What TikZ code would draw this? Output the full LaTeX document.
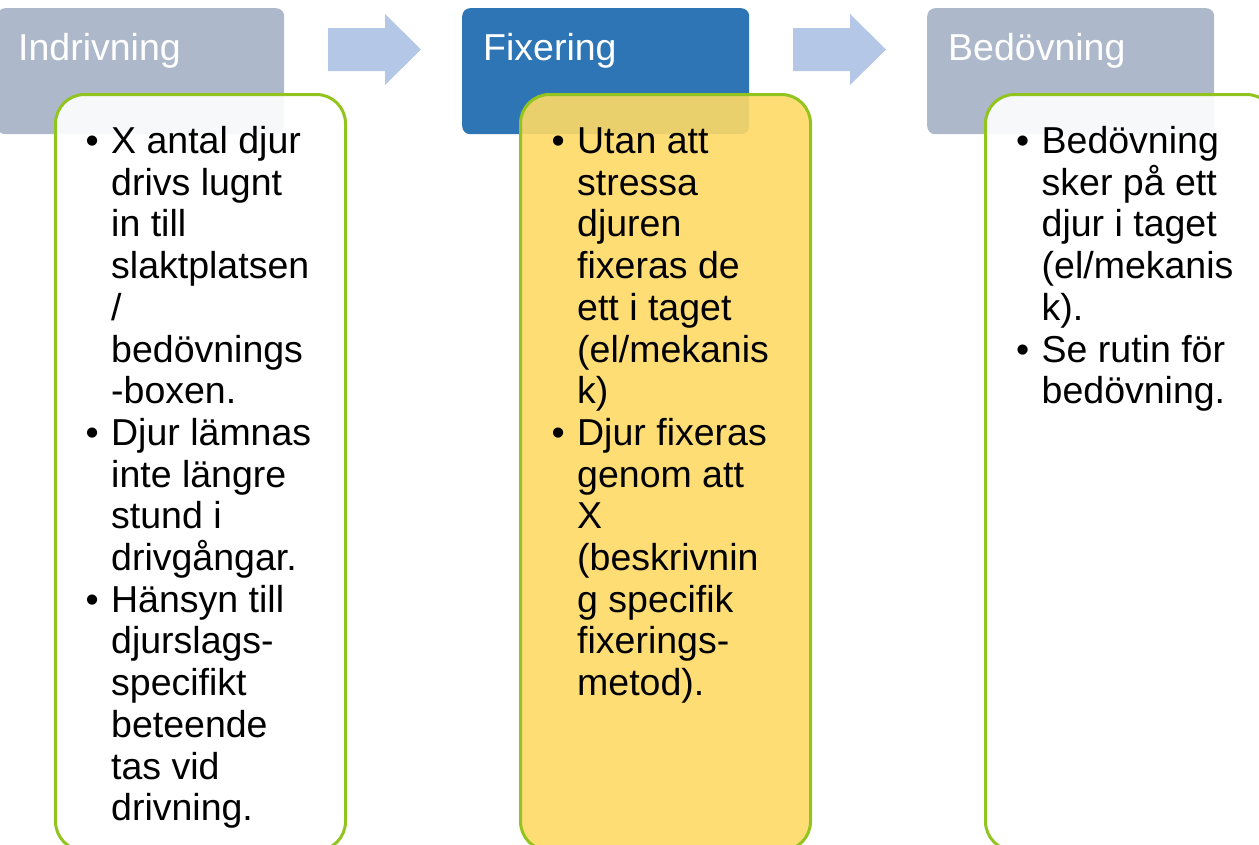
\documentclass[tikz,border=0pt]{standalone}
\usepackage{fontspec}
\setmainfont{Liberation Sans}
\usetikzlibrary{positioning}

\definecolor{headgray}{RGB}{173,185,202}
\definecolor{headblue}{RGB}{46,117,182}
\definecolor{arrowblue}{RGB}{180,199,231}
\definecolor{cardgreen}{RGB}{146,196,32}
\definecolor{cardyellow}{RGB}{255,217,102}

\newcommand{\bl}{\llap{\makebox[25.5pt][l]{•}}}

\tikzset{
  head/.style={rounded corners=8pt, minimum width=287pt, minimum height=126pt, anchor=north west, inner sep=0pt},
  card/.style={draw=cardgreen, line width=3pt, rounded corners=29pt, fill opacity=0.9,
    minimum width=290pt, minimum height=756pt, anchor=north west, inner sep=0pt},
  headtext/.style={anchor=base west, inner sep=0pt, text=white, font=\fontsize{37.5}{41.7}\selectfont},
  listtext/.style={anchor=base west, inner sep=0pt, align=left, font=\fontsize{37.5}{41.7}\selectfont}
}

\begin{document}
\begin{tikzpicture}[x=1pt, y=-1pt]
	\useasboundingbox (0,0) rectangle (1259,844);
	\clip (0,0) rectangle (1259,844);
	% headers
	\node[head, fill=headgray] (indr) at (-3,8) {};
	\node[head, fill=headblue] (fix) at (462,8) {};
	\node[head, fill=headgray] (bed) at (927,8) {};
	\node[headtext] (indrlabel) at (18,60) {Indrivning};
	\node[headtext] (fixlabel) at (483,60) {Fixering};
	\node[headtext] (bedlabel) at (948,60) {Bedövning};
	% arrows
	\foreach \dx in {0,465}
		\fill[arrowblue, xshift=\dx] (328,28) -- (385,28) -- (385,14) -- (421,49.5) -- (385,85) -- (385,71) -- (328,71) -- cycle;
	% cards (lists are placed by the baseline of their last line)
	\node[card, fill=white] (indrcard) at (54,93) {};
	\node[card, fill=cardyellow] (fixcard) at (519,93) {};
	\node[card, fill=white] (bedcard) at (984,93) {};
	\node[listtext] (indrlist) at (111,820.7) {\bl X antal djur\\ drivs lugnt\\ in till\\ slaktplatsen\\ /\\ bedövnings\\ -boxen.\\
		\bl Djur lämnas\\ inte längre\\ stund i\\ drivgångar.\\
		\bl Hänsyn till\\ djurslags-\\ specifikt\\ beteende\\ tas vid\\ drivning.};
	\node[listtext] (fixlist) at (577,695.6) {\bl Utan att\\ stressa\\ djuren\\ fixeras de\\ ett i taget\\ (el/mekanis\\ k)\\
		\bl Djur fixeras\\ genom att\\ X\\ (beskrivnin\\ g specifik\\ fixerings-\\ metod).};
	\node[listtext] (bedlist) at (1041.5,403.7) {\bl Bedövning\\ sker på ett\\ djur i taget\\ (el/mekanis\\ k).\\
		\bl Se rutin för\\ bedövning.};
\end{tikzpicture}
\end{document}
